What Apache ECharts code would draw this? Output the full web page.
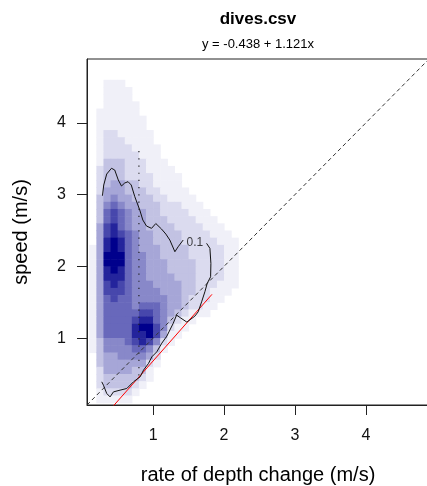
<!DOCTYPE html>
<html><head><meta charset="utf-8">
<script src="https://cdn.jsdelivr.net/npm/echarts@6/dist/echarts.min.js"></script>
<style>html,body{margin:0;padding:0;background:#fff}#c{width:427px;height:486px}</style>
</head><body><div id="c"></div>
<script>
// ---- data ----
const titleText = 'dives.csv';
const subtitleText = 'y = -0.438 + 1.121x';
const xAxisName = 'rate of depth change (m/s)';
const yAxisName = 'speed (m/s)';
const xTicks = [1, 2, 3, 4];
const yTicks = [1, 2, 3, 4];
const axisRange = [0.068, 4.89];

// density grid: bins of 0.1 x 0.1; first column starts at x=0.1,
// first row (top) is y in [4.7,4.8]; each digit = shade level 0..9
const binStartX = 0.1;
const binTopY = 4.7;
const binSize = 0.1;
const densityRows = [
  "000000000000000000000000",
  "000000000000000000000000",
  "001110000000000000000000",
  "001111000000000000000000",
  "001111000000000000000000",
  "001111100000000000000000",
  "011111100000000000000000",
  "011111110000000000000000",
  "011111110000000000000000",
  "012211111000000000000000",
  "012221111000000000000000",
  "012222111100000000000000",
  "012222211100000000000000",
  "013332221110000000000000",
  "023332221111000000000000",
  "023332222111100000000000",
  "023443322111100000000000",
  "024443332211110000000000",
  "034544333221111000000000",
  "035654433322211100000000",
  "036765443322221110000000",
  "036765443332222111000000",
  "047865443333222211100000",
  "047876544333322221110000",
  "048986544333322222111000",
  "148986544433332222211000",
  "149996554433332222211000",
  "149996554443333222211000",
  "148986554443333222211000",
  "148886554444333222211000",
  "147876555444433222111000",
  "147776555544433221110000",
  "146766555554432221100000",
  "146666566654432211000000",
  "146666677654321110000000",
  "146666788653211000000000",
  "146666899752110000000000",
  "146666889741100000000000",
  "135556787521000000000000",
  "135555665310000000000000",
  "034455554200000000000000",
  "034444442100000000000000",
  "024444331000000000000000",
  "023333321000000000000000",
  "023333210000000000000000",
  "012222100000000000000000",
  "011111000000000000000000"
];

// 0.1 density contour (null = gap for the label)
const contourX = [0.286,0.304,0.346,0.413,0.459,0.509,0.554,0.600,0.647,0.692,0.742,0.812,0.855,0.907,0.978,1.038,1.119,1.180,1.236,1.307,1.353,1.424,null,
  1.754,1.801,1.815,1.811,1.763,1.730,1.684,1.636,1.589,1.476,1.391,1.331,1.283,1.236,1.194,1.123,1.052,0.982,0.935,0.865,0.817,0.723,0.629,0.534,0.441,0.393,0.346,0.300,0.276];
const contourY = [2.985,3.134,3.287,3.367,3.343,3.204,3.120,3.162,3.180,3.134,2.971,2.785,2.646,2.562,2.530,2.597,2.520,2.450,2.367,2.204,2.273,2.367,null,
  2.321,2.251,2.042,1.855,1.763,1.646,1.506,1.367,1.307,1.223,1.279,1.321,1.205,1.112,1.028,0.930,0.809,0.739,0.647,0.554,0.460,0.391,0.298,0.275,0.251,0.181,0.229,0.344,0.391];
const contourLabel = {x: 1.59, y: 2.33, text: '0.1'};

const medianX = [0.80, 0.80];
const medianY = [0.48, 3.69];
const identityX = [0.068, 4.89];
const identityY = [0.068, 4.89];
const fitX = [0.44, 1.83];
const fitY = [0.055, 1.61];

// ---- build chart ----
const heatData = [];
densityRows.forEach(function (row, r) {
  const y0 = binTopY - r * binSize;
  for (let c = 0; c < row.length; c++) {
    const lv = +row[c];
    if (lv > 0) heatData.push([binStartX + c * binSize, y0, lv]);
  }
});
const zip = (xs, ys) => xs.map((x, i) => (x === null ? [null, null] : [x, ys[i]]));

const chart = echarts.init(document.getElementById('c'), null, {renderer: 'canvas'});
const font = 'Liberation Sans, Arial, Helvetica, sans-serif';
const axisCommon = {
  type: 'value', min: axisRange[0], max: axisRange[1],
  axisLine: {show: true, lineStyle: {color: '#222', width: 1}},
  axisTick: {show: true, inside: false, length: 10, customValues: [], lineStyle: {color: '#222'}},
  axisLabel: {show: true, customValues: [], color: '#111', fontSize: 16, fontFamily: font},
  splitLine: {show: false},
  nameLocation: 'middle',
  nameTextStyle: {fontSize: 20, color: '#000', fontFamily: font}
};
const xAxis = JSON.parse(JSON.stringify(axisCommon));
xAxis.axisTick.customValues = xTicks;
xAxis.axisLabel.customValues = xTicks;
xAxis.axisLabel.margin = 23;
xAxis.name = xAxisName; xAxis.nameGap = 60;
const yAxis = JSON.parse(JSON.stringify(axisCommon));
yAxis.axisTick.customValues = yTicks;
yAxis.axisLabel.customValues = yTicks;
yAxis.axisLabel.margin = 21;
yAxis.name = yAxisName; yAxis.nameGap = 56;

chart.setOption({
  animation: false,
  backgroundColor: '#fff',
  grid: {left: 87, top: 59, right: -2, bottom: 81, outerBoundsMode: 'none', containLabel: false,
    show: true, borderColor: '#222', borderWidth: 1, backgroundColor: 'transparent'},
  xAxis: xAxis,
  yAxis: yAxis,
  graphic: [
    {type: 'text', x: 258, y: 11, style: {text: titleText, textAlign: 'center', textVerticalAlign: 'top', font: 'bold 17px ' + font, fill: '#000'}},
    {type: 'text', x: 258, y: 38, style: {text: subtitleText, textAlign: 'center', textVerticalAlign: 'top', font: '13px ' + font, fill: '#000'}}
  ],
  series: [
    {
      type: 'custom', clip: true, z: 1,
      dimensions: ['x', 'y', 'level'],
      encode: {x: 0, y: 1},
      data: heatData,
      renderItem: function (params, api) {
        const x0 = api.value(0), y0 = api.value(1), lv = api.value(2);
        const a = api.coord([x0, y0 + binSize]);
        const b = api.coord([x0 + binSize, y0]);
        const t = Math.pow(lv / 9, 1.3);
        const rg = Math.round(255 * (1 - t));
        const bl = Math.round(255 - (255 - 140) * t);
        return {type: 'rect', shape: {x: a[0], y: a[1], width: b[0] - a[0] + 0.6, height: b[1] - a[1] + 0.6},
          style: {fill: 'rgb(' + rg + ',' + rg + ',' + bl + ')'}};
      }
    },
    {type: 'line', data: zip(identityX, identityY), symbol: 'none', z: 3, silent: true,
      lineStyle: {color: '#333', width: 1, type: [4, 3]}},
    {type: 'line', data: zip(medianX, medianY), symbol: 'none', z: 3, silent: true,
      lineStyle: {color: '#222', width: 1.2, type: [1.2, 6]}},
    {type: 'line', data: zip(fitX, fitY), symbol: 'none', z: 4, silent: true,
      lineStyle: {color: '#ff0000', width: 1}},
    {type: 'line', data: zip(contourX, contourY), symbol: 'none', z: 5, silent: true, connectNulls: false,
      lineStyle: {color: '#111', width: 1}},
    {type: 'scatter', data: [[contourLabel.x, contourLabel.y]], symbolSize: 0, z: 6, silent: true,
      label: {show: true, position: 'inside', formatter: contourLabel.text, fontSize: 12, color: '#111', fontFamily: font}}
  ]
});
</script>
</body></html>
